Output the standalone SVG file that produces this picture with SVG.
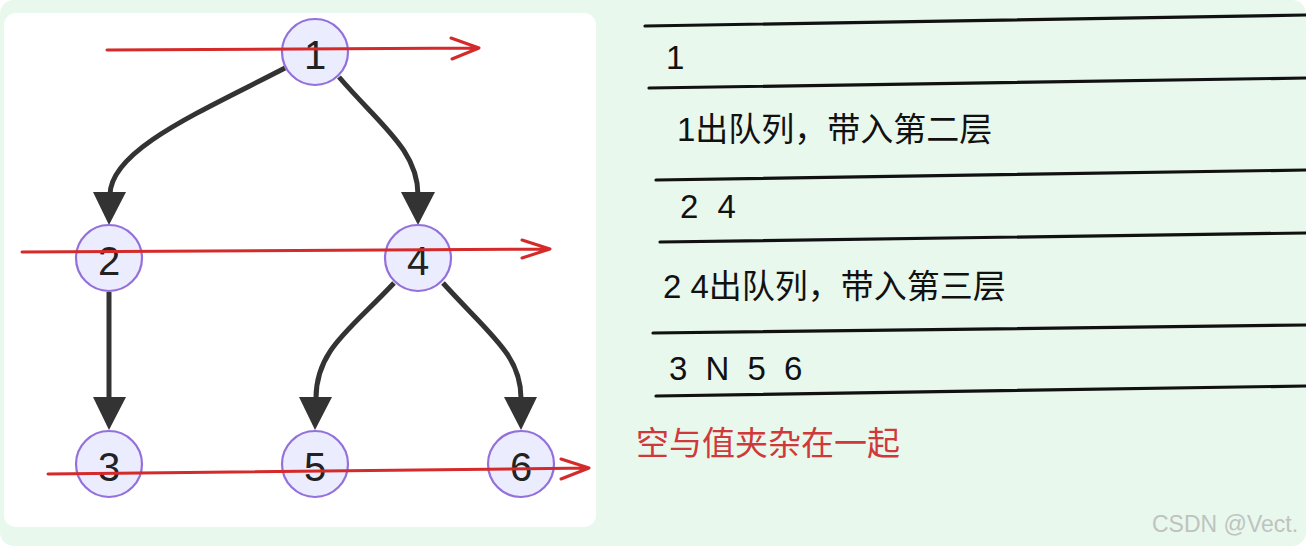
<svg xmlns="http://www.w3.org/2000/svg" width="1306" height="546" viewBox="0 0 1306 546">
<defs>
<style>
.node circle{fill:#ECECFF;stroke:#9370DB;stroke-width:2.2}
.node text{font-family:"Liberation Sans",Arial,sans-serif;font-size:40px;fill:#222;text-anchor:middle}
.edge{fill:none;stroke:#333;stroke-width:5}
.head{fill:#333}
.scan{stroke:#d42a2a;stroke-width:3;fill:none;stroke-linecap:round;stroke-linejoin:round}
.rule{stroke:#111;stroke-width:3.2;stroke-linecap:round}
.q{font-family:"Liberation Sans","Noto Sans CJK SC",sans-serif;font-size:33px;fill:#111}
</style>
</defs>
<rect x="0" y="0" width="1306" height="546" fill="#ffffff"/>
<rect x="0" y="0" width="1306" height="546" rx="14" fill="#e8f8ed"/>
<rect x="4" y="13" width="592" height="514" rx="12" fill="#ffffff"/>

<g id="connectors">
<path class="edge" d="M285,68 C200,112 110,150 110,195"/>
<polygon class="head" points="93,192 126,192 109,225"/>
<path class="edge" d="M339,77 C380,125 418,150 418,195"/>
<polygon class="head" points="401,192 435,192 418,225"/>
<path class="edge" d="M109,292 L109,398"/>
<polygon class="head" points="93,397 126,397 109,430"/>
<path class="edge" d="M394,283 C350,330 316,350 316,398"/>
<polygon class="head" points="299,397 332,397 315,430"/>
<path class="edge" d="M443,283 C490,335 521,355 521,398"/>
<polygon class="head" points="504,397 537,397 521,430"/>
</g>

<g id="node1" class="node"><circle cx="315" cy="52" r="33"/><text x="315" y="69">1</text></g>
<g id="node2" class="node"><circle cx="109" cy="258" r="33"/><text x="109" y="275">2</text></g>
<g id="node4" class="node"><circle cx="418" cy="258" r="33"/><text x="418" y="275">4</text></g>
<g id="node3" class="node"><circle cx="109" cy="464" r="33"/><text x="109" y="481">3</text></g>
<g id="node5" class="node"><circle cx="315" cy="464" r="33"/><text x="315" y="481">5</text></g>
<g id="node6" class="node"><circle cx="521" cy="464" r="33"/><text x="521" y="481">6</text></g>

<g id="scanlines">
<path class="scan" d="M107,50 L479,48 M451,38 L479,48 L452,59"/>
<path class="scan" d="M22,252 L550,249 M522,240 L550,249 L522,258"/>
<path class="scan" d="M48,474 L589,468 M561,459 L589,468 L561,479"/>
</g>

<g id="queue">
<line class="rule" x1="645" y1="26" x2="1306" y2="15"/>
<line class="rule" x1="649" y1="88" x2="1306" y2="78"/>
<line class="rule" x1="656" y1="180" x2="1306" y2="170"/>
<line class="rule" x1="660" y1="242" x2="1306" y2="233"/>
<line class="rule" x1="653" y1="333" x2="1306" y2="325"/>
<line class="rule" x1="656" y1="396" x2="1306" y2="386"/>
<text class="q" x="666" y="69">1</text>
<text class="q" x="677" y="141">1出队列，带入第二层</text>
<text class="q" x="680" y="218" word-spacing="10">2 4</text>
<text class="q" x="663" y="298">2 4出队列，带入第三层</text>
<text class="q" x="669" y="380" word-spacing="9">3 N 5 6</text>
<text x="636" y="455" style="font-family:'Noto Sans CJK SC',sans-serif;font-size:33px;fill:#d0393b">空与值夹杂在一起</text>
</g>
<text x="1152" y="532" style="font-family:'Liberation Sans',Arial,sans-serif;font-size:23px;fill:#bfc3bf">CSDN @Vect.</text>
</svg>
